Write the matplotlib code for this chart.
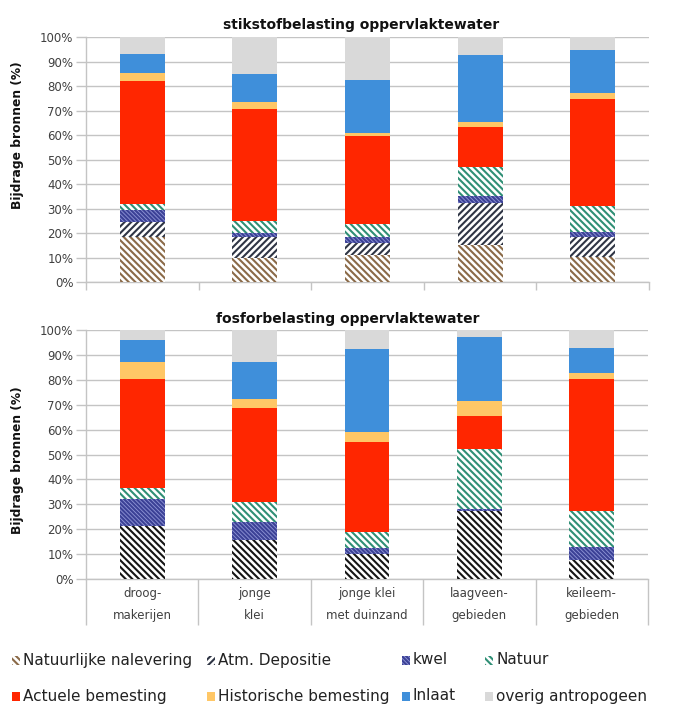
import matplotlib
matplotlib.use('Agg')
import matplotlib.pyplot as plt
from matplotlib.patches import Rectangle
import numpy as np

# ---------------- data ----------------
categories = ['droog-\nmakerijen', 'jonge\nklei', 'jonge klei\nmet duinzand',
              'laagveen-\ngebieden', 'keileem-\ngebieden']
series_names = ['Natuurlijke nalevering', 'Atm. Depositie', 'kwel', 'Natuur',
                'Actuele bemesting', 'Historische bemesting', 'Inlaat', 'overig antropogeen']
titles = ['stikstofbelasting oppervlaktewater', 'fosforbelasting oppervlaktewater']
ylabel = 'Bijdrage bronnen (%)'
yticks = [0, 10, 20, 30, 40, 50, 60, 70, 80, 90, 100]
ytick_labels = ['0%', '10%', '20%', '30%', '40%', '50%', '60%', '70%', '80%', '90%', '100%']

# stikstof (N) contributions, % per category
n_nalevering = [18.5, 9.7, 10.9, 14.9, 10.4]
n_depositie  = [6.0, 8.8, 5.0, 17.5, 7.8]
n_kwel       = [4.9, 1.7, 2.3, 2.5, 2.4]
n_natuur     = [2.5, 4.5, 5.4, 11.9, 10.6]
n_actueel    = [50.1, 46.0, 36.0, 16.3, 43.3]
n_historisch = [3.5, 2.8, 1.1, 2.3, 2.8]
n_inlaat     = [7.7, 11.6, 21.7, 27.1, 17.3]
n_overig     = [6.8, 14.9, 17.6, 7.5, 5.4]

# fosfor (P) contributions, % per category
p_nalevering = [21.4, 15.5, 10.0, 27.4, 7.5]
p_depositie  = [0.0, 0.0, 0.0, 0.0, 0.0]
p_kwel       = [10.8, 7.2, 2.4, 0.8, 5.3]
p_natuur     = [4.3, 8.2, 6.5, 24.1, 14.7]
p_actueel    = [43.7, 37.7, 36.0, 13.3, 52.8]
p_historisch = [6.8, 3.7, 4.1, 5.9, 2.6]
p_inlaat     = [9.0, 14.7, 33.4, 25.6, 10.0]
p_overig     = [4.0, 13.0, 7.6, 2.9, 7.1]

panels = [
    [n_nalevering, n_depositie, n_kwel, n_natuur, n_actueel, n_historisch, n_inlaat, n_overig],
    [p_nalevering, p_depositie, p_kwel, p_natuur, p_actueel, p_historisch, p_inlaat, p_overig],
]

# ---------------- styles ----------------
plt.rcParams['hatch.linewidth'] = 1.5
plt.rcParams['font.family'] = ['DejaVu Sans']

face = ['white', 'white', '#8f95d6', 'white', '#ff2600', '#ffc766', '#3f8fda', '#d9d9d9']
hatch = ['\\' * 5, '/' * 5, '\\' * 8, '\\' * 5, None, None, None, None]
hcol_panel = [
    ['#8b6a48', '#2f3545', '#3b4196', '#2f8f75', None, None, None, None],
    ['#151515', '#2f3545', '#3b4196', '#2f8f75', None, None, None, None],
]
grid_col = '#c4c4c4'
text_col = '#404040'

fig = plt.figure(figsize=(6.87, 7.18), dpi=100)
W, H = 687.0, 718.0

def fx(px):
    return px / W

def fy(py):
    return 1 - py / H

axes_px = [(86, 37, 649, 282), (86, 330, 648, 579)]
title_px = [(361, 25), (348, 319)]
ylabel_px = [(18, 135), (18, 460)]
sep_len = [5.8, 33]

x = np.arange(len(categories))
for k in range(2):
    l, t, r, b = axes_px[k]
    ax = fig.add_axes([fx(l), fy(b), (r - l) / W, (b - t) / H])
    bottom = np.zeros(len(categories))
    for i, vals in enumerate(panels[k]):
        vals = np.array(vals, dtype=float)
        if hatch[i] is not None:
            ax.bar(x, vals, 0.4, bottom=bottom, color=face[i], edgecolor=hcol_panel[k][i],
                   hatch=hatch[i], linewidth=0, zorder=3)
        else:
            ax.bar(x, vals, 0.4, bottom=bottom, color=face[i], edgecolor=face[i],
                   linewidth=0, zorder=3)
        bottom += vals
    ax.set_xlim(-0.5, len(categories) - 0.5)
    ax.set_ylim(0, 100)
    ax.set_yticks(yticks)
    ax.set_yticklabels(ytick_labels, fontsize=8.5, color=text_col)
    ax.yaxis.grid(True, color=grid_col, linewidth=1, zorder=0)
    ax.set_axisbelow(True)
    ax.tick_params(axis='y', length=7, width=1, color=grid_col, pad=2)
    for s in ['top', 'right']:
        ax.spines[s].set_visible(False)
    for s in ['left', 'bottom']:
        ax.spines[s].set_color(grid_col)
        ax.spines[s].set_linewidth(1)
    ax.set_xticks(x)
    if k == 1:
        ax.set_xticklabels(categories, fontsize=8.5, color=text_col, linespacing=1.85)
    else:
        ax.set_xticklabels([''] * len(categories))
    ax.tick_params(axis='x', which='major', length=0, pad=6)
    ax.set_xticks(np.arange(len(categories) + 1) - 0.5, minor=True)
    ax.tick_params(axis='x', which='minor', length=sep_len[k], width=1, color=grid_col)
    fig.text(fx(title_px[k][0]), fy(title_px[k][1]), titles[k], ha='center', va='center',
             fontsize=10, fontweight='bold', color='#111111')
    fig.text(fx(ylabel_px[k][0]), fy(ylabel_px[k][1]), ylabel, ha='center', va='center',
             rotation=90, fontsize=8.8, fontweight='bold', color='#111111')

# ---------------- legend (manual) ----------------
leg_order = [[0, 1, 2, 3], [4, 5, 6, 7]]
leg_rows_y = [660, 696]
leg_text_x = [23, 218, 413, 496]
for row, idxs in enumerate(leg_order):
    yc = leg_rows_y[row]
    for col, i in enumerate(idxs):
        tx = leg_text_x[col]
        sw, sh = 8, 9
        hc = hcol_panel[0][i]
        if hatch[i] is not None:
            rect = Rectangle((fx(tx - 11), fy(yc + sh / 2)), sw / W, sh / H, transform=fig.transFigure,
                             facecolor=face[i], edgecolor=hc, hatch=hatch[i], linewidth=0)
        else:
            rect = Rectangle((fx(tx - 11), fy(yc + sh / 2)), sw / W, sh / H, transform=fig.transFigure,
                             facecolor=face[i], edgecolor=face[i], linewidth=0)
        fig.add_artist(rect)
        fig.text(fx(tx), fy(yc), series_names[i], ha='left', va='center', fontsize=11,
                 color='#222222')

fig.savefig('out.png', dpi=100)
